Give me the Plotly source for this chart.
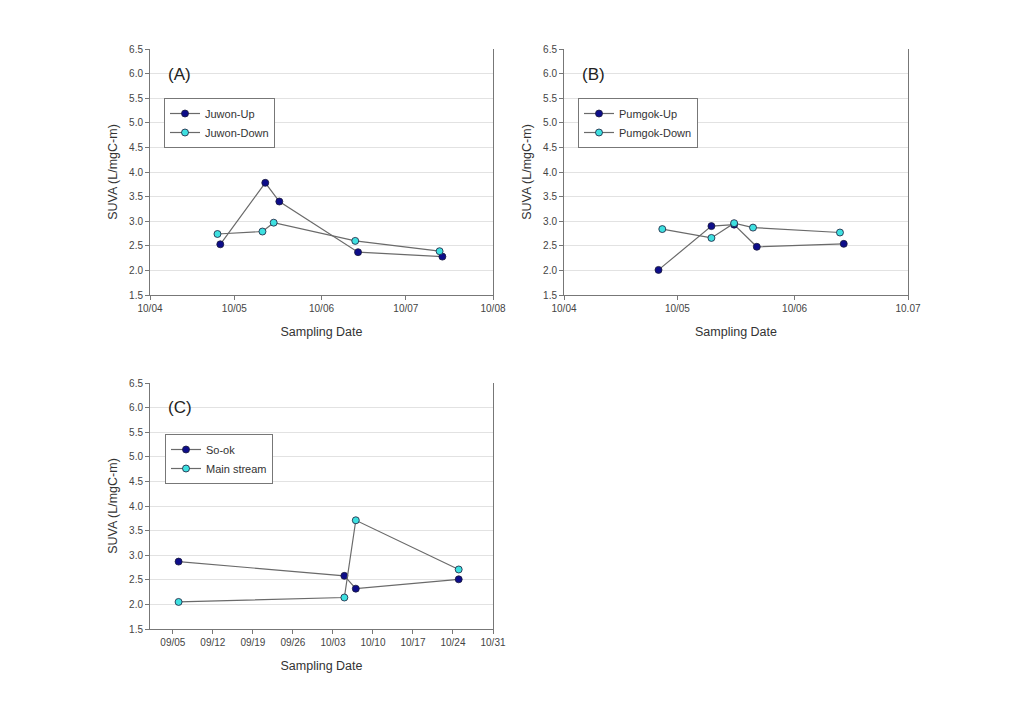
import plotly.graph_objects as go

# ---- Data ----
juwon_up_dates = ["2010-04-26", "2010-05-12", "2010-05-17", "2010-06-14", "2010-07-14"]
juwon_up_vals = [2.53, 3.78, 3.40, 2.37, 2.28]
juwon_down_dates = ["2010-04-25", "2010-05-11", "2010-05-15", "2010-06-13", "2010-07-13"]
juwon_down_vals = [2.74, 2.79, 2.97, 2.60, 2.39]

pumgok_up_dates = ["2010-04-26", "2010-05-10", "2010-05-16", "2010-05-22", "2010-06-14"]
pumgok_up_vals = [2.01, 2.90, 2.93, 2.48, 2.54]
pumgok_down_dates = ["2010-04-27", "2010-05-10", "2010-05-16", "2010-05-21", "2010-06-13"]
pumgok_down_vals = [2.84, 2.66, 2.96, 2.87, 2.77]

sook_dates = ["2010-09-06", "2010-10-05", "2010-10-07", "2010-10-25"]
sook_vals = [2.87, 2.58, 2.32, 2.51]
main_dates = ["2010-09-06", "2010-10-05", "2010-10-07", "2010-10-25"]
main_vals = [2.05, 2.14, 3.71, 2.71]

a_ticks = ["2010-04-01", "2010-05-01", "2010-06-01", "2010-07-01", "2010-08-01"]
a_ticktext = ["10/04", "10/05", "10/06", "10/07", "10/08"]
b_ticks = ["2010-04-01", "2010-05-01", "2010-06-01", "2010-07-01"]
b_ticktext = ["10/04", "10/05", "10/06", "10.07"]
c_ticks = ["2010-09-05", "2010-09-12", "2010-09-19", "2010-09-26", "2010-10-03",
           "2010-10-10", "2010-10-17", "2010-10-24", "2010-10-31"]
c_ticktext = ["09/05", "09/12", "09/19", "09/26", "10/03", "10/10", "10/17", "10/24", "10/31"]

y_ticks = [1.5, 2.0, 2.5, 3.0, 3.5, 4.0, 4.5, 5.0, 5.5, 6.0, 6.5]

# ---- Styles ----
FONT = "Liberation Sans, Arial, sans-serif"
DARK = "#0d0d8a"
CYAN = "#3ee0e0"
LINE = "#6a6a6a"
OFF = 8  # page body margin
W, H = 1023 - 2 * OFF, 701 - 2 * OFF

fig = go.Figure()

def add(x, y, name, color, xa, ya, legend):
    fig.add_trace(go.Scatter(
        x=x, y=y, name=name, mode="lines+markers",
        line=dict(color=LINE, width=1.2),
        marker=dict(color=color, size=7, line=dict(color="#1a1a3a", width=0.8)),
        xaxis=xa, yaxis=ya, legend=legend))

add(juwon_up_dates, juwon_up_vals, "Juwon-Up", DARK, "x", "y", "legend")
add(juwon_down_dates, juwon_down_vals, "Juwon-Down", CYAN, "x", "y", "legend")
add(pumgok_up_dates, pumgok_up_vals, "Pumgok-Up", DARK, "x2", "y2", "legend2")
add(pumgok_down_dates, pumgok_down_vals, "Pumgok-Down", CYAN, "x2", "y2", "legend2")
add(sook_dates, sook_vals, "So-ok", DARK, "x3", "y3", "legend3")
add(main_dates, main_vals, "Main stream", CYAN, "x3", "y3", "legend3")

def px_x(p): return (p - OFF) / W
def px_y(p): return 1 - (p - OFF) / H

tickfont = dict(family=FONT, size=10, color="#444")
titlefont = dict(family=FONT, size=12.5, color="#333")

def xaxis(dom, rng, tv, tt, anchor):
    return dict(domain=dom, range=rng, type="date", tickvals=tv, ticktext=tt,
                showgrid=False, zeroline=False, showline=True, linecolor="#777",
                linewidth=1, ticks="outside", ticklen=4, tickcolor="#777",
                tickfont=tickfont, anchor=anchor, automargin=False,
                title=dict(text="Sampling Date", font=titlefont, standoff=14))

def yaxis(dom, anchor):
    return dict(domain=dom, range=[1.5, 6.5], tickvals=y_ticks,
                ticktext=[f"{v:.1f}" for v in y_ticks],
                showgrid=True, gridcolor="#e2e2e2", gridwidth=1,
                zeroline=False, showline=True, linecolor="#777", linewidth=1,
                mirror=True, ticks="outside", ticklen=4, tickcolor="#777",
                tickfont=tickfont, anchor=anchor, automargin=False,
                title=dict(text="SUVA (L/mgC-m)", font=titlefont, standoff=8))

legend_common = dict(bgcolor="white", bordercolor="#777", borderwidth=1,
                     font=dict(family=FONT, size=11, color="#333"),
                     xanchor="left", yanchor="top", tracegroupgap=0,
                     itemwidth=30)

fig.update_layout(
    width=W, height=H, margin=dict(l=0, r=0, t=0, b=0, autoexpand=False),
    paper_bgcolor="white", plot_bgcolor="white",
    xaxis=xaxis([px_x(150), px_x(493)], ["2010-04-01", "2010-08-01"], a_ticks,
                a_ticktext, "y"),
    yaxis=yaxis([px_y(295), px_y(49)], "x"),
    xaxis2=xaxis([px_x(564), px_x(908)], ["2010-04-01", "2010-07-01"], b_ticks,
                 b_ticktext, "y2"),
    yaxis2=yaxis([px_y(295), px_y(49)], "x2"),
    xaxis3=xaxis([px_x(150), px_x(493)], ["2010-09-01", "2010-10-31"], c_ticks,
                 c_ticktext, "y3"),
    yaxis3=yaxis([px_y(629), px_y(383)], "x3"),
    legend=dict(x=px_x(164), y=px_y(98), **legend_common),
    legend2=dict(x=px_x(578), y=px_y(98), **legend_common),
    legend3=dict(x=px_x(165), y=px_y(434), **legend_common),
    showlegend=True,
)

for label, x, y in [("(A)", 166, 75), ("(B)", 580, 75), ("(C)", 166, 408)]:
    fig.add_annotation(text=label, x=px_x(x), y=px_y(y), xref="paper", yref="paper",
                       xanchor="left", yanchor="middle", showarrow=False,
                       font=dict(family=FONT, size=17, color="#222"))

fig.write_html("out.html")
